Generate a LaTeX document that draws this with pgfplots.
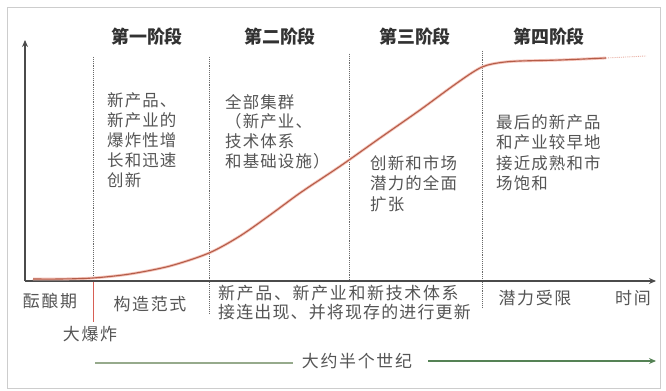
\documentclass[border=0pt]{standalone}
\usepackage{pgfplots}
\pgfplotsset{compat=1.18}
\usepackage{fontspec}
\setmainfont{Noto Sans CJK SC}
\newfontfamily\cjkls[LetterSpace=10]{Noto Sans CJK SC}
\newfontfamily\cjkbl[LetterSpace=7]{Noto Sans CJK SC}
\usetikzlibrary{arrows.meta}
\definecolor{txt}{RGB}{85,85,85}
\definecolor{head}{RGB}{50,50,50}
\definecolor{axisc}{RGB}{75,75,75}
\definecolor{curve}{RGB}{180,92,72}
\definecolor{glow}{RGB}{245,195,185}
\definecolor{frame}{RGB}{205,205,205}
\definecolor{gleft}{RGB}{150,170,140}
\definecolor{gright}{RGB}{85,130,85}
\definecolor{dotc}{RGB}{105,105,105}
\definecolor{bang}{RGB}{215,95,85}
\begin{document}
\begin{tikzpicture}
\begin{axis}[width=666bp,height=391bp,scale only axis,
  xmin=0,xmax=666,ymin=0,ymax=391,y dir=reverse,
  hide axis,clip=false]
% frame
\fill[white] (axis cs:0,0) rectangle (axis cs:666,391);
\draw[frame,line width=0.8pt] (axis cs:7,7) rectangle (axis cs:660,388);
% dotted stage separators
\draw[dotc,densely dotted,line width=0.9pt] (axis cs:93,57) -- (axis cs:93,281);
\draw[dotc,densely dotted,line width=0.9pt] (axis cs:209,57) -- (axis cs:209,313);
\draw[dotc,densely dotted,line width=0.9pt] (axis cs:349,54) -- (axis cs:349,281);
\draw[dotc,densely dotted,line width=0.9pt] (axis cs:482,51) -- (axis cs:482,308);
% big bang marker
\draw[bang,line width=0.9pt] (axis cs:93,281) -- (axis cs:93,322);
% axes
\draw[axisc,line width=1.6pt,-{Stealth[length=7pt,width=6pt]}] (axis cs:25,281) -- (axis cs:25,40);
\draw[axisc,line width=1.2pt,-{Stealth[length=7pt,width=6pt]}] (axis cs:25,281) -- (axis cs:656,281);
% curve
\addplot[glow,line width=2.8pt,smooth] coordinates {
(33,279) (60,279) (93,278) (130,274) (170,266) (209,253) (240,236) (270,215)
(300,193) (333,171) (349,160) (380,138) (420,110) (450,88) (470,74) (482,67)
(492,64) (505,62) (520,61) (560,60) (606,58)};
\addplot[curve,line width=1.1pt,smooth] coordinates {
(33,279) (60,279) (93,278) (130,274) (170,266) (209,253) (240,236) (270,215)
(300,193) (333,171) (349,160) (380,138) (420,110) (450,88) (470,74) (482,67)
(492,64) (505,62) (520,61) (560,60) (606,58)};
\addplot[glow!80!curve,line width=0.9pt,densely dotted] coordinates {(606,58) (646,56)};
% headings
\begin{scope}[every node/.style={inner sep=0pt,anchor=base,text=head,font=\fontsize{18}{20}\selectfont\bfseries}]
\node at (axis cs:147,43) {第一阶段};
\node at (axis cs:280,43) {第二阶段};
\node at (axis cs:415,43) {第三阶段};
\node at (axis cs:549,43) {第四阶段};
\end{scope}
% text blocks
\begin{scope}[every node/.style={inner sep=0pt,anchor=base west,text=txt,font=\fontsize{16.5}{20}\cjkbl}]
\node at (axis cs:107,106) {新产品、};
\node at (axis cs:107,126) {新产业的};
\node at (axis cs:107,146) {爆炸性增};
\node at (axis cs:107,166) {长和迅速};
\node at (axis cs:107,186) {创新};
\node at (axis cs:225,108) {全部集群};
\node at (axis cs:225,127) {（新产业、};
\node at (axis cs:225,147) {技术体系};
\node at (axis cs:225,167) {和基础设施）};
\node at (axis cs:370,169) {创新和市场};
\node at (axis cs:370,189) {潜力的全面};
\node at (axis cs:370,210) {扩张};
\node at (axis cs:496,128) {最后的新产品};
\node at (axis cs:496,148) {和产业较早地};
\node at (axis cs:496,169) {接近成熟和市};
\node at (axis cs:496,189) {场饱和};
\end{scope}
% bottom labels
\begin{scope}[every node/.style={inner sep=0pt,anchor=base,text=txt,font=\fontsize{17}{20}\cjkls}]
\node at (axis cs:50,307) {酝酿期};
\node at (axis cs:150,310) {构造范式};
\node at (axis cs:90,340) {大爆炸};
\node at (axis cs:535,304) {潜力受限};
\node at (axis cs:633,304) {时间};
\node at (axis cs:357,367) {大约半个世纪};
\node[anchor=base west] at (axis cs:218,299) {新产品、新产业和新技术体系};
\node[anchor=base west,font=\fontsize{17}{20}\cjkbl] at (axis cs:218,318) {接连出现、并将现存的进行更新};
\end{scope}
% half-century arrow
\draw[gleft,line width=1.4pt] (axis cs:95,363) -- (axis cs:293,363);
\draw[gright,line width=1.4pt,-{Stealth[length=7pt,width=6pt]}] (axis cs:428,361) -- (axis cs:656,361);
\end{axis}
\end{tikzpicture}
\end{document}
